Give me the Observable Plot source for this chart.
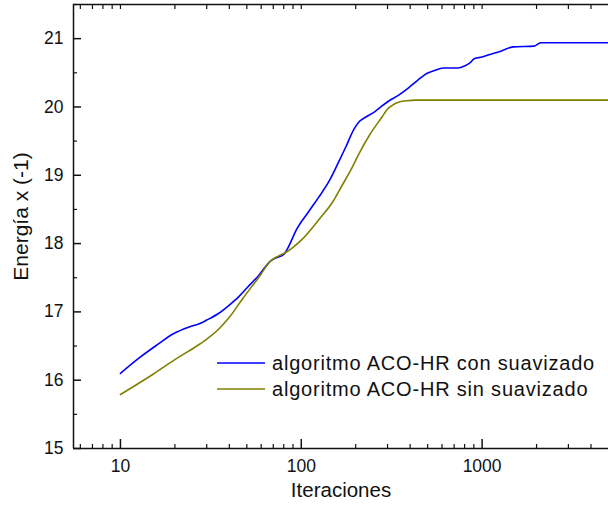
<!DOCTYPE html>
<html>
<head>
<meta charset="utf-8">
<script src="https://cdn.jsdelivr.net/npm/d3@7"></script>
<script src="https://cdn.jsdelivr.net/npm/@observablehq/plot@0.6"></script>
<style>
  html, body { margin: 0; padding: 0; background: #fff; }
  #wrap { position: relative; width: 608px; height: 507px; font-family: "Liberation Sans", Arial, sans-serif; }
  #legend { position: absolute; left: 0; top: 0; pointer-events: none; }
</style>
</head>
<body>
<div id="wrap"></div>
<script>
// Series names
const seriesNames = ["algoritmo ACO-HR con suavizado", "algoritmo ACO-HR sin suavizado"];
const seriesColors = ["#0000ff", "#808000"];

// Blue: con suavizado
const iterCon = [10, 12.9, 16, 19.6, 24, 27.5, 30, 35, 40, 45, 50, 58, 68, 74, 80, 86, 93, 110, 125, 143, 160, 176, 196, 210, 230, 252, 275, 302, 344, 392, 440, 494, 540, 611, 737, 800, 860, 909, 1000, 1080, 1279, 1483, 1941, 2106, 5000];
const energyCon = [16.10, 16.34, 16.52, 16.68, 16.78, 16.83, 16.88, 16.98, 17.10, 17.22, 17.35, 17.53, 17.75, 17.80, 17.84, 17.98, 18.18, 18.47, 18.68, 18.92, 19.18, 19.41, 19.68, 19.79, 19.86, 19.92, 20.00, 20.08, 20.17, 20.28, 20.39, 20.49, 20.53, 20.57, 20.57, 20.60, 20.65, 20.71, 20.73, 20.76, 20.82, 20.88, 20.89, 20.94, 20.94];

// Olive: sin suavizado
const iterSin = [10, 15, 20, 27.5, 30, 35, 40, 47.6, 58, 68, 75, 82, 100, 126, 150, 168, 190, 208, 240, 279, 300, 317, 344, 382, 427, 5000];
const energySin = [15.79, 16.08, 16.30, 16.53, 16.60, 16.75, 16.92, 17.20, 17.50, 17.75, 17.82, 17.87, 18.05, 18.36, 18.62, 18.85, 19.10, 19.31, 19.60, 19.85, 19.97, 20.02, 20.07, 20.09, 20.10, 20.10];

// Ticks
const xMajor = [10, 100, 1000];
const xMinor = [6, 7, 8, 9, 20, 30, 40, 50, 60, 70, 80, 90, 200, 300, 400, 500, 600, 700, 800, 900, 2000, 3000, 4000];
const yMajor = [15, 16, 17, 18, 19, 20, 21];
const yMinor = [15.5, 16.5, 17.5, 18.5, 19.5, 20.5, 21.5];
const xDomain = [5.5, 5000];
const yDomain = [15, 21.5];

const con = iterCon.map((x, i) => ({x, y: energyCon[i]}));
const sin = iterSin.map((x, i) => ({x, y: energySin[i]}));

const font = "\"Liberation Sans\", Arial, sans-serif";
const axisColor = "#111";

const chart = Plot.plot({
  width: 608,
  height: 507,
  marginLeft: 73,
  marginRight: 0,
  marginTop: 4,
  marginBottom: 59,
  style: {fontFamily: font, fontSize: "17px", color: "#111", background: "#fff", overflow: "visible"},
  x: {type: "log", domain: xDomain},
  y: {domain: yDomain},
  marks: [
    // frame lines
    Plot.ruleY([yDomain[0]], {stroke: axisColor, strokeWidth: 1.5}),
    Plot.ruleY([yDomain[1]], {stroke: axisColor, strokeWidth: 1.5}),
    Plot.ruleX([xDomain[0]], {stroke: axisColor, strokeWidth: 1.5}),
    // y axis
    Plot.axisY({ticks: yMajor, tickSize: -8, tickPadding: 18, strokeWidth: 1.5, stroke: axisColor, fontSize: 17.5, tickFormat: d => String(d), label: null}),
    Plot.axisY({ticks: yMinor, tickSize: -4, strokeWidth: 1.2, stroke: axisColor, tickFormat: () => "", label: null}),
    // bottom x axis
    Plot.axisX({ticks: xMajor, tickSize: -9, tickPadding: 20, strokeWidth: 1.5, stroke: axisColor, fontSize: 17.5, tickFormat: d => String(d), label: null}),
    Plot.axisX({ticks: xMinor, tickSize: -4, strokeWidth: 1.2, stroke: axisColor, tickFormat: () => "", label: null}),
    // top x axis (ticks only)
    Plot.axisX({anchor: "top", ticks: xMajor.concat(xMinor), tickSize: -4, strokeWidth: 1.2, stroke: axisColor, tickFormat: () => "", label: null}),
    // axis labels
    Plot.text(["Iteraciones"], {frameAnchor: "bottom", dy: 48, text: d => d, fontSize: 20.5, fill: "#111"}),
    Plot.text(["Energía x (-1)"], {frameAnchor: "left", textAnchor: "middle", dx: -52, dy: -10, rotate: -90, text: d => d, fontSize: 21, letterSpacing: 0.5, fill: "#111"}),
    // series
    Plot.line(con, {x: "x", y: "y", stroke: seriesColors[0], strokeWidth: 1.6, curve: "monotone-x", clip: true}),
    Plot.line(sin, {x: "x", y: "y", stroke: seriesColors[1], strokeWidth: 1.6, curve: "monotone-x", clip: true})
  ]
});

const wrap = document.getElementById("wrap");
wrap.appendChild(chart);

// Legend overlay
const legend = d3.select(wrap).append("svg")
  .attr("id", "legend")
  .attr("width", 608).attr("height", 507);
const lx0 = 217, lx1 = 265, ly0 = 363, lstep = 26;
seriesNames.forEach((name, i) => {
  const y = ly0 + i * lstep;
  legend.append("line")
    .attr("x1", lx0).attr("x2", lx1).attr("y1", y).attr("y2", y)
    .attr("stroke", seriesColors[i]).attr("stroke-width", 1.6);
  legend.append("text")
    .attr("x", lx1 + 7).attr("y", y).attr("dy", "0.35em")
    .attr("font-family", font).attr("font-size", 20)
    .attr("letter-spacing", "0.8px")
    .attr("fill", "#111")
    .text(name);
});
</script>
</body>
</html>
